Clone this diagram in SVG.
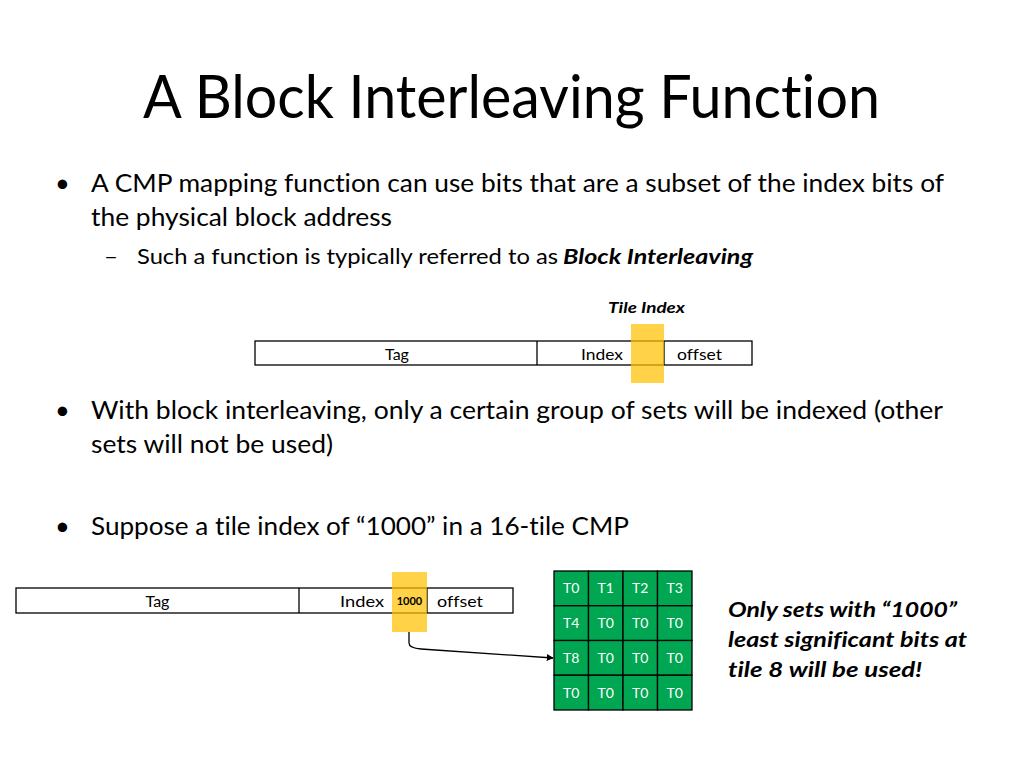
<svg xmlns="http://www.w3.org/2000/svg" width="1024" height="768" viewBox="0 0 1024 768">
<defs>
<style>
.t{font-family:Lato,"Open Sans","Liberation Sans",sans-serif;fill:#000;font-variant-ligatures:none;font-feature-settings:"liga" 0,"clig" 0}
.title{font-size:60px}
.b{font-size:25.5px}
.s{font-size:21px}
.bi{font-weight:bold;font-style:italic}
.lbl{font-size:16px}
.bar{fill:#fff;stroke:#000;stroke-width:1.3}
.hl{fill:#FFC000;fill-opacity:0.72}
.cell{fill:#00A651;stroke:#000;stroke-width:1.3}
.ct{font-family:Lato,"Open Sans","Liberation Sans",sans-serif;font-size:14px;fill:#fff;text-anchor:middle}
.conn{fill:none;stroke:#000;stroke-width:1.3}
</style>
<marker id="arr" viewBox="0 0 10 10" refX="9" refY="5" markerWidth="7" markerHeight="7" orient="auto" markerUnits="userSpaceOnUse">
<path d="M0,0 L10,5 L0,10 z" fill="#000"/>
</marker>
</defs>
<rect width="1024" height="768" fill="#fff"/>

<g id="title">
<text class="t title" x="143" y="118" textLength="737" lengthAdjust="spacingAndGlyphs">A Block Interleaving Function</text>
</g>

<g id="bullets">
<text class="t b" x="55" y="192">•</text>
<text class="t b" x="91" y="192" textLength="853" lengthAdjust="spacingAndGlyphs">A CMP mapping function can use bits that are a subset of the index bits of</text>
<text class="t b" x="91" y="226" textLength="301" lengthAdjust="spacingAndGlyphs">the physical block address</text>
<text class="t s" x="104" y="264" textLength="14" lengthAdjust="spacingAndGlyphs">–</text>
<text class="t s" x="137" y="264" textLength="421" lengthAdjust="spacingAndGlyphs">Such a function is typically referred to as</text>
<text class="t s bi" x="563" y="264" textLength="190" lengthAdjust="spacingAndGlyphs">Block Interleaving</text>
<text class="t b" x="55" y="419">•</text>
<text class="t b" x="91" y="419" textLength="852" lengthAdjust="spacingAndGlyphs">With block interleaving, only a certain group of sets will be indexed (other</text>
<text class="t b" x="91" y="453" textLength="242" lengthAdjust="spacingAndGlyphs">sets will not be used)</text>
<text class="t b" x="55" y="535">•</text>
<text class="t b" x="91" y="535" textLength="538" lengthAdjust="spacingAndGlyphs">Suppose a tile index of “1000” in a 16-tile CMP</text>
</g>

<g id="address-top">
<rect class="bar" x="255" y="341" width="497" height="24"/>
<line x1="537" y1="341" x2="537" y2="365" stroke="#000" stroke-width="1.3"/>
<line x1="664" y1="341" x2="664" y2="365" stroke="#000" stroke-width="1.3"/>
<rect class="hl" x="631" y="324" width="33" height="59"/>
<text class="t lbl" x="397" y="360" text-anchor="middle">Tag</text>
<text class="t lbl" x="581" y="360" textLength="42" lengthAdjust="spacingAndGlyphs">Index</text>
<text class="t lbl" x="677" y="360" textLength="45" lengthAdjust="spacingAndGlyphs">offset</text>
<text class="t lbl bi" x="608" y="313" textLength="77" lengthAdjust="spacingAndGlyphs">Tile Index</text>
</g>

<g id="address-bottom">
<rect class="bar" x="16" y="588" width="497" height="25"/>
<line x1="299" y1="588" x2="299" y2="613" stroke="#000" stroke-width="1.3"/>
<line x1="427" y1="588" x2="427" y2="613" stroke="#000" stroke-width="1.3"/>
<rect class="hl" x="392" y="572" width="35" height="60"/>
<text class="t lbl" x="157.5" y="607" text-anchor="middle">Tag</text>
<text class="t lbl" x="340" y="607" textLength="44" lengthAdjust="spacingAndGlyphs">Index</text>
<text class="t" x="409.5" y="605" font-size="11" font-weight="bold" text-anchor="middle">1000</text>
<text class="t lbl" x="437" y="607" textLength="46" lengthAdjust="spacingAndGlyphs">offset</text>
</g>

<g id="tile-grid">
<rect class="cell" x="554" y="571" width="34.5" height="34.75"/>
<rect class="cell" x="588.5" y="571" width="34.5" height="34.75"/>
<rect class="cell" x="623" y="571" width="34.5" height="34.75"/>
<rect class="cell" x="657.5" y="571" width="34.5" height="34.75"/>
<rect class="cell" x="554" y="605.75" width="34.5" height="34.75"/>
<rect class="cell" x="588.5" y="605.75" width="34.5" height="34.75"/>
<rect class="cell" x="623" y="605.75" width="34.5" height="34.75"/>
<rect class="cell" x="657.5" y="605.75" width="34.5" height="34.75"/>
<rect class="cell" x="554" y="640.5" width="34.5" height="34.75"/>
<rect class="cell" x="588.5" y="640.5" width="34.5" height="34.75"/>
<rect class="cell" x="623" y="640.5" width="34.5" height="34.75"/>
<rect class="cell" x="657.5" y="640.5" width="34.5" height="34.75"/>
<rect class="cell" x="554" y="675.25" width="34.5" height="34.75"/>
<rect class="cell" x="588.5" y="675.25" width="34.5" height="34.75"/>
<rect class="cell" x="623" y="675.25" width="34.5" height="34.75"/>
<rect class="cell" x="657.5" y="675.25" width="34.5" height="34.75"/>
<text class="ct" x="571.25" y="593">T0</text>
<text class="ct" x="605.75" y="593">T1</text>
<text class="ct" x="640.25" y="593">T2</text>
<text class="ct" x="674.75" y="593">T3</text>
<text class="ct" x="571.25" y="628">T4</text>
<text class="ct" x="605.75" y="628">T0</text>
<text class="ct" x="640.25" y="628">T0</text>
<text class="ct" x="674.75" y="628">T0</text>
<text class="ct" x="571.25" y="663">T8</text>
<text class="ct" x="605.75" y="663">T0</text>
<text class="ct" x="640.25" y="663">T0</text>
<text class="ct" x="674.75" y="663">T0</text>
<text class="ct" x="571.25" y="697.5">T0</text>
<text class="ct" x="605.75" y="697.5">T0</text>
<text class="ct" x="640.25" y="697.5">T0</text>
<text class="ct" x="674.75" y="697.5">T0</text>
</g>

<g id="note">
<text class="t bi" font-size="21" x="728" y="617" textLength="229" lengthAdjust="spacingAndGlyphs">Only sets with “1000”</text>
<text class="t bi" font-size="21" x="728" y="647" textLength="239" lengthAdjust="spacingAndGlyphs">least significant bits at</text>
<text class="t bi" font-size="21" x="728" y="677" textLength="194" lengthAdjust="spacingAndGlyphs">tile 8 will be used!</text>
</g>

<g id="connectors">
<path class="conn" d="M409,632 V643 Q409,648 421,649 C470,652 515,655 553,658" marker-end="url(#arr)"/>
</g>
</svg>
